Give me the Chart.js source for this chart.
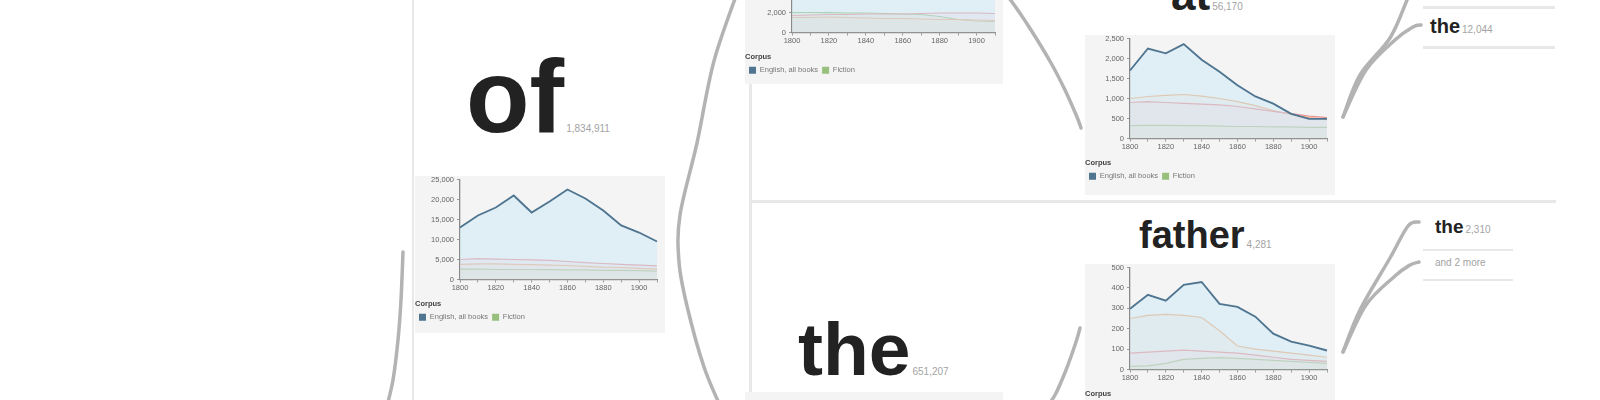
<!DOCTYPE html>
<html>
<head>
<meta charset="utf-8">
<script src="https://cdn.jsdelivr.net/npm/chart.js@4"></script>
<style>
  body { margin: 0; width: 1600px; height: 400px; overflow: hidden; background: #fff; position: relative;
         font-family: "Liberation Sans", Arial, sans-serif; }
  .word { position: absolute; font-weight: bold; color: #222; white-space: nowrap; line-height: 1; }
  .count { font-weight: normal; color: #a3a3a3; font-size: 10px; margin-left: 2px; }
  .note { position: absolute; color: #a3a3a3; font-size: 10px; white-space: nowrap; line-height: 1; }
  .box { position: absolute; background: #f4f4f4; }
  .box canvas { display: block; margin-top: -4px; }
  .rule { position: absolute; background: #e8e8e8; }
  svg { position: absolute; left: 0; top: 0; }
</style>
</head>
<body>
<svg id="links" width="1600" height="400"></svg>

<div class="rule" style="left:412px;top:0;width:2px;height:400px"></div>
<div class="rule" style="left:749px;top:0;width:3px;height:400px"></div>
<div class="rule" style="left:750px;top:200px;width:806px;height:3px"></div>
<div class="rule" style="left:1423px;top:6px;width:132px;height:3px"></div>
<div class="rule" style="left:1423px;top:46px;width:132px;height:3px"></div>
<div class="rule" style="left:1423px;top:249px;width:90px;height:2px"></div>
<div class="rule" style="left:1423px;top:279px;width:90px;height:2px"></div>

<div class="word" style="left:466px;top:44px;font-size:104px">of<span class="count">1,834,911</span></div>
<div class="word" style="left:1171px;top:-27px;font-size:44px">at<span class="count">56,170</span></div>
<div class="word" style="left:1139px;top:216px;font-size:38px">father<span class="count">4,281</span></div>
<div class="word" style="left:798px;top:312px;font-size:75px">the<span class="count">651,207</span></div>
<div class="word" style="left:1430px;top:16px;font-size:20px">the<span class="count">12,044</span></div>
<div class="word" style="left:1435px;top:217px;font-size:19px">the<span class="count">2,310</span></div>
<div class="note" style="left:1435px;top:258px">and 2 more</div>

<div class="box" style="left:415px;top:176px;width:250px;height:157px"><canvas id="cOf" width="250" height="150"></canvas></div>
<div class="box" style="left:745px;top:-71px;width:258px;height:155px"><canvas id="cTop" width="258" height="150"></canvas></div>
<div class="box" style="left:1085px;top:35px;width:250px;height:160px"><canvas id="cAt" width="250" height="150"></canvas></div>
<div class="box" style="left:1085px;top:264px;width:250px;height:160px"><canvas id="cFather" width="250" height="150"></canvas></div>
<div class="box" style="left:745px;top:392px;width:258px;height:20px"></div>

<script>
const years = [1800, 1810, 1820, 1830, 1840, 1850, 1860, 1870, 1880, 1890, 1900, 1910];
const seriesNames = ['English, all books', 'American', 'British', 'Fiction'];

// "of"
const ofAll = [13000, 16000, 18000, 21000, 16750, 19500, 22500, 20250, 17250, 13500, 11750, 9500];
const ofUS = [5000, 5200, 5100, 5000, 4900, 4800, 4500, 4200, 4000, 3800, 3600, 3400];
const ofGB = [3800, 3900, 3900, 3800, 3700, 3600, 3500, 3300, 3100, 3000, 2800, 2600];
const ofFiction = [2600, 2600, 2500, 2500, 2500, 2450, 2400, 2400, 2300, 2300, 2200, 2100];

// top child of "of" (cut off)
const topAll = [6000, 7500, 8200, 9000, 8400, 9600, 8800, 8000, 7200, 6500, 5600, 5000];
const topUS = [1700, 1750, 1800, 1800, 1850, 1850, 1850, 1900, 1950, 1950, 1950, 1900];
const topGB = [1500, 1500, 1550, 1500, 1450, 1400, 1400, 1350, 1300, 1300, 1250, 1200];
const topFiction = [2000, 2000, 1980, 1950, 1950, 1900, 1850, 1800, 1600, 1300, 1150, 1100];

// "at"
const atAll = [1700, 2250, 2130, 2360, 1970, 1670, 1330, 1050, 870, 615, 490, 490];
const atUS = [900, 920, 900, 880, 860, 840, 800, 740, 680, 620, 560, 520];
const atGB = [1000, 1050, 1080, 1100, 1060, 1000, 920, 820, 700, 600, 520, 480];
const atFiction = [320, 330, 330, 320, 320, 310, 300, 300, 290, 290, 280, 280];

// "father"
const fatherAll = [298, 366, 337, 415, 429, 322, 307, 259, 176, 137, 117, 93];
const fatherUS = [80, 85, 90, 95, 90, 85, 80, 70, 60, 50, 45, 40];
const fatherGB = [250, 265, 270, 265, 255, 190, 115, 100, 90, 80, 70, 60];
const fatherFiction = [15, 18, 30, 50, 55, 58, 55, 50, 45, 40, 35, 30];

const lineColors = ['#4f7590', '#e99494', '#efb07a', '#98bf7c'];
const fillColors = ['rgba(200,230,248,0.45)', 'rgba(245,190,200,0.18)', 'rgba(250,215,170,0.18)', 'rgba(200,225,170,0.2)'];

Chart.defaults.font.family = '"Liberation Sans", Arial, sans-serif';
Chart.defaults.font.size = 7.5;
Chart.defaults.color = '#666';
Chart.defaults.animation = false;

function chartConfig(series, step, axisW) {
  const datasets = series.map((vals, i) => ({
    label: seriesNames[i],
    data: vals,
    borderColor: lineColors[i],
    backgroundColor: fillColors[i],
    borderWidth: i === 0 ? 1.9 : 1.2,
    pointRadius: 0,
    fill: 'origin',
    tension: 0,
  }));
  return {
    type: 'line',
    data: { labels: years, datasets },
    options: {
      responsive: false,
      maintainAspectRatio: false,
      layout: { padding: { left: 0, right: 8, top: 3, bottom: 0 } },
      scales: {
        x: {
          grid: { drawOnChartArea: false, tickLength: 3, color: '#999' },
          border: { color: '#8a8a8a', width: 1.3 },
          ticks: {
            autoSkip: false, maxRotation: 0, padding: 1, color: '#666',
            callback: function (v, idx) { return idx % 2 === 0 ? String(this.getLabelForValue(v)) : ''; },
          },
          afterFit: (s) => { s.height = 13; },
        },
        y: {
          min: 0,
          grid: { drawOnChartArea: false, tickLength: 3, color: '#999' },
          border: { color: '#8a8a8a', width: 1.3 },
          ticks: { stepSize: step, padding: 3, color: '#666' },
          afterFit: (s) => { s.width = axisW; },
        },
      },
      plugins: {
        tooltip: { enabled: false },
        legend: {
          position: 'bottom',
          align: 'start',
          title: { display: true, text: 'Corpus', position: 'start', color: '#444', font: { size: 7.5, weight: 'bold' }, padding: { top: 8, bottom: 0 } },
          labels: {
            boxWidth: 7, boxHeight: 7, padding: 4, color: '#777',
            filter: (item) => item.datasetIndex === 0 || item.datasetIndex === 3,
            generateLabels: (chart) => Chart.defaults.plugins.legend.labels.generateLabels(chart)
              .map((l) => Object.assign(l, { fillStyle: l.strokeStyle, lineWidth: 0 })),
          },
        },
      },
    },
  };
}

// draw once, then set the canvas height so the plot area is plotH tall
function makeChart(id, series, step, axisW, plotH) {
  const canvas = document.getElementById(id);
  let chart = new Chart(canvas, chartConfig(series, step, axisW));
  const extra = plotH - (chart.chartArea.bottom - chart.chartArea.top);
  if (extra !== 0) {
    const h = canvas.height + extra;
    chart.destroy();
    canvas.height = h;
    canvas.style.height = h + 'px';
    chart = new Chart(canvas, chartConfig(series, step, axisW));
  }
  return chart;
}

makeChart('cOf', [ofAll, ofUS, ofGB, ofFiction], 5000, 45, 100);
makeChart('cTop', [topAll, topUS, topGB, topFiction], 2000, 47, 100);
makeChart('cAt', [atAll, atUS, atGB, atFiction], 500, 45, 100);
makeChart('cFather', [fatherAll, fatherUS, fatherGB, fatherFiction], 100, 45, 102);

// tree links
function smooth(pts) {
  let d = 'M' + pts[0][0] + ',' + pts[0][1];
  for (let i = 0; i < pts.length - 1; i++) {
    const p0 = pts[i - 1] || pts[i], p1 = pts[i], p2 = pts[i + 1], p3 = pts[i + 2] || p2;
    const c1 = [p1[0] + (p2[0] - p0[0]) / 6, p1[1] + (p2[1] - p0[1]) / 6];
    const c2 = [p2[0] - (p3[0] - p1[0]) / 6, p2[1] - (p3[1] - p1[1]) / 6];
    d += ' C' + c1.join(',') + ' ' + c2.join(',') + ' ' + p2.join(',');
  }
  return d;
}
const links = [
  [[403, 252], [401, 300], [398, 340], [393, 380], [386, 410]],
  [[740, -15], [714, 61], [697, 143], [680, 215], [679, 262], [687, 306], [704, 367], [722, 410]],
  [[998, -15], [1012, 2], [1031, 30], [1051, 63], [1065, 90], [1077, 117], [1081, 128]],
  [[1043, 412], [1055, 395], [1066, 370], [1076, 342], [1080, 328]],
  [[1343, 117], [1360, 75], [1390, 38], [1407, 0], [1413, -15]],
  [[1343, 117], [1366, 70], [1395, 40], [1413, 27], [1421, 25]],
  [[1343, 352], [1360, 310], [1390, 258], [1408, 226], [1419, 222]],
  [[1343, 352], [1366, 305], [1395, 276], [1410, 265], [1419, 262]],
];
const svg = document.getElementById('links');
links.forEach((pts) => {
  const p = document.createElementNS('http://www.w3.org/2000/svg', 'path');
  p.setAttribute('d', smooth(pts));
  p.setAttribute('fill', 'none');
  p.setAttribute('stroke', '#b3b3b3');
  p.setAttribute('stroke-width', '3.5');
  p.setAttribute('stroke-linecap', 'round');
  svg.appendChild(p);
});
</script>
</body>
</html>
